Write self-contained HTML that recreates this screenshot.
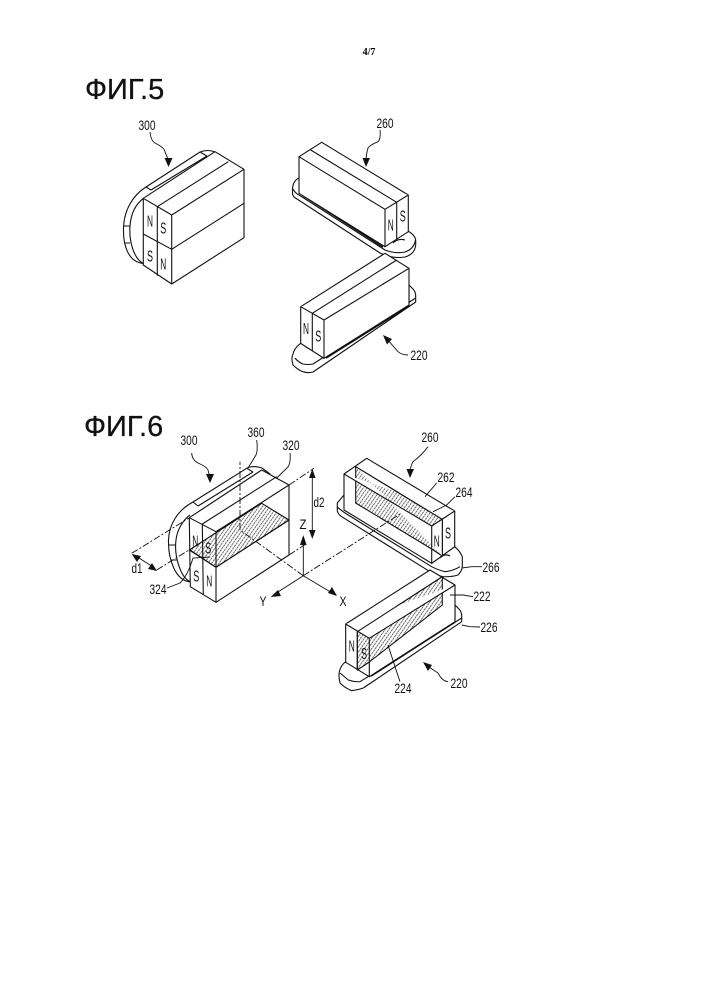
<!DOCTYPE html>
<html><head><meta charset="utf-8"><style>
html,body{margin:0;padding:0;background:#fff}
svg{display:block}
.l{font-family:"Liberation Sans",sans-serif;font-size:14px;fill:#111;text-anchor:middle}
.m{font-family:"Liberation Sans",sans-serif;font-size:15.5px;fill:#111;text-anchor:middle}
.t{font-family:"Liberation Sans",sans-serif;font-size:29px;fill:#111;stroke:#111;stroke-width:.3}
</style></head><body>
<svg width="707" height="1000" viewBox="0 0 707 1000" xmlns="http://www.w3.org/2000/svg">
<defs><pattern id="h" width="3" height="3" patternUnits="userSpaceOnUse" patternTransform="rotate(35)"><rect width="3" height="3" fill="#fff"/><line x1="1.5" y1="0" x2="1.5" y2="3" stroke="#444" stroke-width="0.8" stroke-dasharray="1.6 .7"/></pattern></defs>
<text x="369" y="55" font-family="Liberation Serif,serif" font-size="10" font-weight="bold" text-anchor="middle">4/7</text>
<text class="t" x="85" y="99">ФИГ.5</text>
<text class="t" x="84" y="436">ФИГ.6</text>

<g fill="#fff" stroke="#111" stroke-width="1.1" stroke-linejoin="round">
<!-- FIG 5 300 -->
<path d="M143.3 263.5C128 262 123 245 123.5 228C124 210 133 195 146 187L200 152Q208 149 215 152L225 158L150 205Z"/>
<path d="M143.3 263.5C133 258 129 240 130 226C131 212 137 203 144 198M124 226L130 226M124 243L130 243M146 187L151 190M200 152L207 156M151 190L207 156M153 194L214 154" fill="none"/>
<path d="M143.3 198.3L215 151.7L244 169.3V237.7L171.7 284L143.3 265Z"/>
<path d="M143.3 198.3L171.7 215L244 169.3M171.7 215V284M171.7 249.3L244 203.3M143.3 234L171.7 249.3M157.3 206.7V275.7M157.3 206.7L228.3 161.7"/>
<!-- FIG 5 260 -->
<path d="M299 178Q292.500 181 292.500 190V194Q293 197 297 199L380 253Q392 259 405 257Q415 254 415.700 245V240Q415 235 408 231L385 246.700Z"/>
<path d="M293 189Q295 193 299 195L385 250Q395 254 405 252Q414 249 415.500 240M393 243Q398 238 405 240" fill="none"/>
<path d="M303 195.500L383 247" fill="none" stroke-width="1.7"/>
<path d="M299 156.700L321.700 142.300L408.300 195V231.700L385 246.700L299 193.300Z"/>
<path d="M299 156.700L385 209.300L408.300 195M385 209.300V246.700M310.700 150L396.700 202.300V239.300"/>
<!-- FIG 5 220 -->
<path d="M409 285L413 289Q415.700 292 415.700 296V302L313 372Q303 375 293 365Q291 358 292.700 355Q294 348 300.700 343.300L324 358.300L409 305Z"/>
<path d="M295 358Q298 362 303 364Q308 365 313 364L415.700 298M306 347Q310 349 315 352" fill="none"/>
<path d="M326 358L409 306" fill="none" stroke-width="1.7"/>
<path d="M385 253.300L409 268.300V305L324 358.300L300.700 343.300V306.700Z"/>
<path d="M300.700 306.700L324 320L409 268.300M324 320V358.300M312.300 313.300V350.700M312.300 313.300L396.700 260"/>
<!-- FIG 6 300 -->
<path d="M190 581.700C176 581 168 560 168.500 540C169 524 178 510 193 502L246.700 468.300Q253 465 262 468L270 474L200 520Z"/>
<path d="M190 581.700C180 577 174 555 176 540C177 530 183 520 190 515M169 545L175 545M171 560L177 560M193 502L198 506M246.700 468.300L253 472M198 506L253 472M201 510L259 472" fill="none"/>
<path d="M189.300 517.700L261.700 470L289 485V555L216 602.300L190.300 586.700Z"/>
<path d="M216 567.300L289 520L261.700 503.300L189.300 550Z" fill="url(#h)"/>
<path d="M189.300 517.700L216 531.700L289 485M216 531.700V602.300M202.300 524L203.300 595M202.300 524L276.700 476.700M190 550L216 567.300M216 567.300L289 520"/>
<!-- FIG 6 260 -->
<path d="M344 495L337.300 503V511Q338 514 341.700 516.700L430 571.700Q436 575 443 576.700Q452 577 458 575Q462 571 462.300 566.700V556.700Q460 551 454.700 546.700L431.700 563.300Z"/>
<path d="M337 507L345 513L431.700 566.700Q438 570 445 571.700Q453 571 460 566.700M440 558Q445 553 450 556" fill="none"/>
<path d="M348 510L430 562" fill="none" stroke-width="1.7"/>
<path d="M344 474L366.700 458.300L454.700 511V546.700L431.700 563.300L344 510Z"/>
<path d="M355.700 466.700L442.300 519.300V556L431.700 549L355.700 503Z" fill="url(#h)"/>
<path d="M344 474L431.700 526L454.700 511M431.700 526V563.300M355.700 466.700L442.300 519.300V556"/>
<!-- FIG 6 220 -->
<path d="M455 605L459 609Q461.700 612 461.700 616V621.700L363.300 688Q358 690 351.700 690.700Q345 688 340 683Q338.500 677 339.300 671.700Q341 665 345.700 661.700L369.300 676.700L455 621.700Z"/>
<path d="M340 673L348.300 680Q354 682 360 681.700L461.700 618M352 665Q356 668 361 671" fill="none"/>
<path d="M371 676L455 622" fill="none" stroke-width="1.7"/>
<path d="M430 570L455 585V621.700L369.300 676.700L345.700 662.300V624Z"/>
<path d="M357.300 631.700L442.300 576.700V605L369.300 662L357.300 670Z" fill="url(#h)"/>
<path d="M345.700 624L369.300 638.300L455 585M369.300 638.300V676.700M357.300 631.700V670M357.300 631.700L442.300 576.700"/>
</g>

<!-- axes / dash lines -->
<g fill="none" stroke="#111" stroke-width="0.9">
<path d="M303.300 575.700L240 530M240 530V461.700M289 485L314 468.300M289 555L307 543.300M131.700 553.300L189 518M156.700 570L189 550M303.300 575.700L320 565L401.700 513" stroke-dasharray="7 2 2 2"/>
<path d="M303.300 575.700V540M303.300 575.700L333 593.500M303.300 575.700L274 594.500M312.300 474V534M136 556L153 567"/>
<!-- leaders -->
<path d="M150 132Q151 141 155 143Q165 148 165 152Q168 158 168.300 162M380 130Q381 139 378 141.700Q370 145 368 148Q366 155 366 162M408 355Q402 355 398 351.700L387 339"/>
<path d="M191.700 453Q192 460 198 463Q207 467 208 470L210 478M256.700 440Q258 450 256 455L248 468M290 453Q291 462 288 467L276.700 478M428 446.700Q422 455 413 461.700Q410 467 410 473M436.700 483L425 496.700M455 496.700L446.700 505L433 511.700M482 566.700L471.700 566.700L461.700 568M473 596.700L463 595L450 595M480 627L470 626.700L461.700 625M400 681.700L395 666.700L388 645M448 681.700Q442 681 438 673L426 665M167 588L180 583Q188 575 193 558L210 557"/>
</g>
<g fill="#111" stroke="none">
<path d="M168.500 167L164.500 158L172.500 158ZM366 167L362.500 158L370 158ZM383 335L392 339L387 344.500ZM210 483L206 474L214 474ZM410 478L406.500 469L414 469ZM423 662L432 665L428 671Z"/>
<path d="M303.300 535L300 545H306.600ZM337 596L328 593L332 587ZM270.700 597L278 590L281 596ZM312.300 469L309 478H315.600ZM312.300 539L309 530H315.600ZM131.700 554L141 556L137 562ZM157 571L148 569L152 563Z"/>
</g>

<!-- magnet letters -->
<text class="m" x="150" y="226.700" textLength="6" lengthAdjust="spacingAndGlyphs">N</text>
<text class="m" x="163.300" y="233.300" textLength="6" lengthAdjust="spacingAndGlyphs">S</text>
<text class="m" x="150" y="261.700" textLength="6" lengthAdjust="spacingAndGlyphs">S</text>
<text class="m" x="163.300" y="269.300" textLength="6" lengthAdjust="spacingAndGlyphs">N</text>
<text class="m" x="390.700" y="230.700" textLength="6" lengthAdjust="spacingAndGlyphs">N</text>
<text class="m" x="402.700" y="221.700" textLength="6" lengthAdjust="spacingAndGlyphs">S</text>
<text class="m" x="306" y="334" textLength="6" lengthAdjust="spacingAndGlyphs">N</text>
<text class="m" x="318.300" y="341.700" textLength="6" lengthAdjust="spacingAndGlyphs">S</text>
<text class="m" x="195.300" y="546.700" textLength="6" lengthAdjust="spacingAndGlyphs">N</text>
<text class="m" x="208.300" y="553.300" textLength="6" lengthAdjust="spacingAndGlyphs">S</text>
<text class="m" x="196.300" y="581.700" textLength="6" lengthAdjust="spacingAndGlyphs">S</text>
<text class="m" x="209.300" y="586.700" textLength="6" lengthAdjust="spacingAndGlyphs">N</text>
<text class="m" x="436.700" y="546.700" textLength="6" lengthAdjust="spacingAndGlyphs">N</text>
<text class="m" x="448" y="538.300" textLength="6" lengthAdjust="spacingAndGlyphs">S</text>
<text class="m" x="351.700" y="651.700" textLength="6" lengthAdjust="spacingAndGlyphs">N</text>
<text class="m" x="364" y="659" textLength="6" lengthAdjust="spacingAndGlyphs">S</text>

<!-- labels -->
<text class="l" x="147" y="130" textLength="17" lengthAdjust="spacingAndGlyphs">300</text>
<text class="l" x="385" y="128" textLength="17" lengthAdjust="spacingAndGlyphs">260</text>
<text class="l" x="419" y="360" textLength="17" lengthAdjust="spacingAndGlyphs">220</text>
<text class="l" x="189" y="445" textLength="17" lengthAdjust="spacingAndGlyphs">300</text>
<text class="l" x="256" y="437" textLength="17" lengthAdjust="spacingAndGlyphs">360</text>
<text class="l" x="291" y="450" textLength="17" lengthAdjust="spacingAndGlyphs">320</text>
<text class="l" x="430" y="442" textLength="17" lengthAdjust="spacingAndGlyphs">260</text>
<text class="l" x="446" y="482" textLength="17" lengthAdjust="spacingAndGlyphs">262</text>
<text class="l" x="464" y="497" textLength="17" lengthAdjust="spacingAndGlyphs">264</text>
<text class="l" x="491" y="572" textLength="17" lengthAdjust="spacingAndGlyphs">266</text>
<text class="l" x="482" y="601" textLength="17" lengthAdjust="spacingAndGlyphs">222</text>
<text class="l" x="489" y="632" textLength="17" lengthAdjust="spacingAndGlyphs">226</text>
<text class="l" x="403" y="693" textLength="17" lengthAdjust="spacingAndGlyphs">224</text>
<text class="l" x="459" y="688" textLength="17" lengthAdjust="spacingAndGlyphs">220</text>
<text class="l" x="319" y="507" textLength="11" lengthAdjust="spacingAndGlyphs">d2</text>
<text class="l" x="137" y="573" textLength="11" lengthAdjust="spacingAndGlyphs">d1</text>
<text class="l" x="158" y="594" textLength="17" lengthAdjust="spacingAndGlyphs">324</text>
<text class="l" x="303" y="529" textLength="7" lengthAdjust="spacingAndGlyphs">Z</text>
<text class="l" x="263" y="606" textLength="7" lengthAdjust="spacingAndGlyphs">Y</text>
<text class="l" x="343" y="606" textLength="7" lengthAdjust="spacingAndGlyphs">X</text>
</svg>
</body></html>
